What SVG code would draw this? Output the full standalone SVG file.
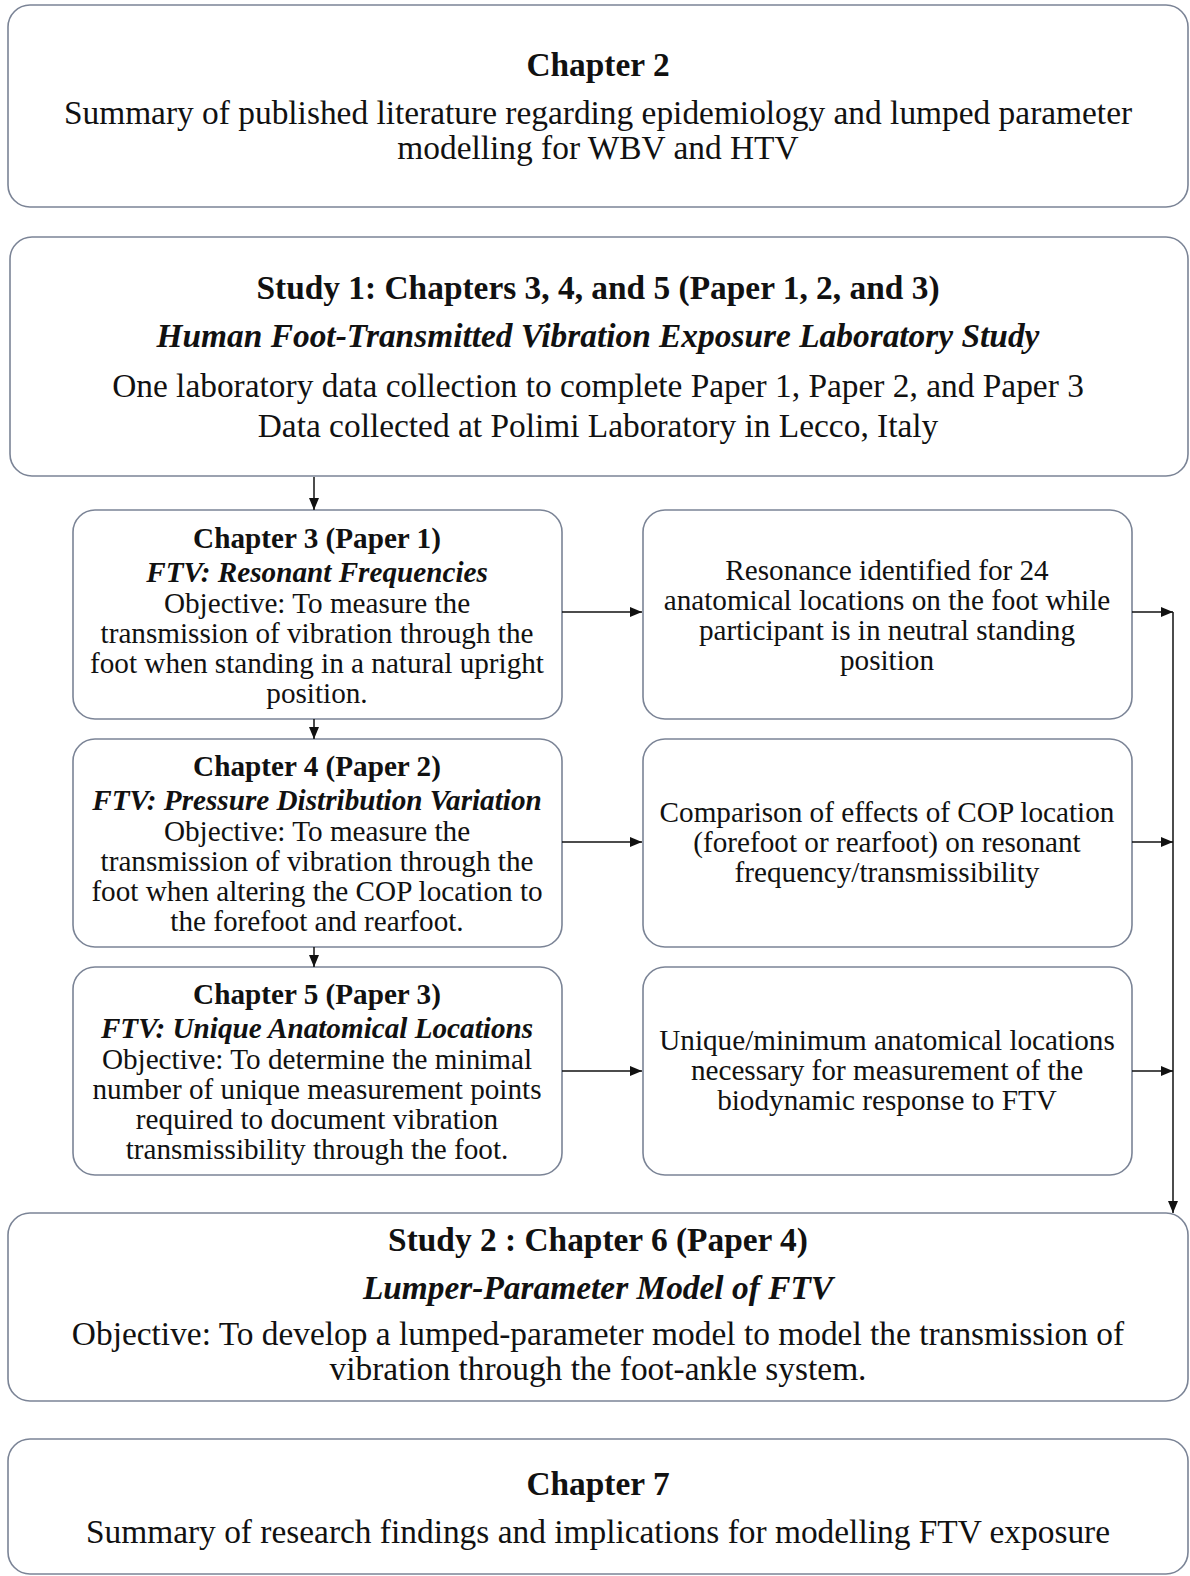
<svg xmlns="http://www.w3.org/2000/svg" width="1190" height="1576" viewBox="0 0 1190 1576">
<style>
.box{fill:#fff;stroke:#7b8496;stroke-width:1.6}
.t{font-family:"Liberation Serif","Times New Roman",serif;fill:#111;text-anchor:middle}
.b{font-weight:bold}
.bi{font-weight:bold;font-style:italic}
.L{font-size:33.4px}
.S{font-size:29.2px}
.con line,.con path{stroke:#111;stroke-width:1.5;fill:none}
</style>
<defs>
<marker id="ah" viewBox="0 0 12 10" refX="12" refY="5" markerWidth="12" markerHeight="10" markerUnits="userSpaceOnUse" orient="auto">
<path d="M0,0 L12,5 L0,10 z" fill="#111"/>
</marker>
</defs>
<rect width="1190" height="1576" fill="#fff"/>

<g id="chapter2">
<rect class="box" x="8" y="5" width="1180" height="202" rx="22"/>
<text class="t L b" x="598" y="76">Chapter 2</text>
<text class="t L" x="598" y="124">Summary of published literature regarding epidemiology and lumped parameter</text>
<text class="t L" x="598" y="159">modelling for WBV and HTV</text>
</g>

<g id="study1">
<rect class="box" x="10" y="237" width="1178" height="239" rx="22"/>
<text class="t L b" x="598" y="299">Study 1: Chapters 3, 4, and 5 (Paper 1, 2, and 3)</text>
<text class="t L bi" x="598" y="347">Human Foot-Transmitted Vibration Exposure Laboratory Study</text>
<text class="t L" x="598" y="397">One laboratory data collection to complete Paper 1, Paper 2, and Paper 3</text>
<text class="t L" x="598" y="437">Data collected at Polimi Laboratory in Lecco, Italy</text>
</g>

<g id="ch3">
<rect class="box" x="73" y="510" width="489" height="209" rx="22"/>
<text class="t S b" x="317" y="548">Chapter 3 (Paper 1)</text>
<text class="t S bi" x="317" y="582">FTV: Resonant Frequencies</text>
<text class="t S" x="317" y="613">Objective: To measure the</text>
<text class="t S" x="317" y="643">transmission of vibration through the</text>
<text class="t S" x="317" y="673">foot when standing in a natural upright</text>
<text class="t S" x="317" y="703">position.</text>
</g>

<g id="ch4">
<rect class="box" x="73" y="739" width="489" height="208" rx="22"/>
<text class="t S b" x="317" y="776">Chapter 4 (Paper 2)</text>
<text class="t S bi" x="317" y="810">FTV: Pressure Distribution Variation</text>
<text class="t S" x="317" y="841">Objective: To measure the</text>
<text class="t S" x="317" y="871">transmission of vibration through the</text>
<text class="t S" x="317" y="901">foot when altering the COP location to</text>
<text class="t S" x="317" y="931">the forefoot and rearfoot.</text>
</g>

<g id="ch5">
<rect class="box" x="73" y="967" width="489" height="208" rx="22"/>
<text class="t S b" x="317" y="1004">Chapter 5 (Paper 3)</text>
<text class="t S bi" x="317" y="1038">FTV: Unique Anatomical Locations</text>
<text class="t S" x="317" y="1069">Objective: To determine the minimal</text>
<text class="t S" x="317" y="1099">number of unique measurement points</text>
<text class="t S" x="317" y="1129">required to document vibration</text>
<text class="t S" x="317" y="1159">transmissibility through the foot.</text>
</g>

<g id="res1">
<rect class="box" x="643" y="510" width="489" height="209" rx="22"/>
<text class="t S" x="887" y="580">Resonance identified for 24</text>
<text class="t S" x="887" y="610">anatomical locations on the foot while</text>
<text class="t S" x="887" y="640">participant is in neutral standing</text>
<text class="t S" x="887" y="670">position</text>
</g>

<g id="res2">
<rect class="box" x="643" y="739" width="489" height="208" rx="22"/>
<text class="t S" x="887" y="822">Comparison of effects of COP location</text>
<text class="t S" x="887" y="852">(forefoot or rearfoot) on resonant</text>
<text class="t S" x="887" y="882">frequency/transmissibility</text>
</g>

<g id="res3">
<rect class="box" x="643" y="967" width="489" height="208" rx="22"/>
<text class="t S" x="887" y="1050">Unique/minimum anatomical locations</text>
<text class="t S" x="887" y="1080">necessary for measurement of the</text>
<text class="t S" x="887" y="1110">biodynamic response to FTV</text>
</g>

<g id="study2">
<rect class="box" x="8" y="1213" width="1180" height="188" rx="22"/>
<text class="t L b" x="598" y="1251">Study 2 : Chapter 6 (Paper 4)</text>
<text class="t L bi" x="598" y="1299">Lumper-Parameter Model of FTV</text>
<text class="t L" x="598" y="1345">Objective: To develop a lumped-parameter model to model the transmission of</text>
<text class="t L" x="598" y="1380">vibration through the foot-ankle system.</text>
</g>

<g id="chapter7">
<rect class="box" x="8" y="1439" width="1180" height="135" rx="22"/>
<text class="t L b" x="598" y="1495">Chapter 7</text>
<text class="t L" x="598" y="1543">Summary of research findings and implications for modelling FTV exposure</text>
</g>

<g class="con" id="connectors">
<line x1="314" y1="477" x2="314" y2="510" marker-end="url(#ah)"/>
<line x1="314" y1="719" x2="314" y2="739" marker-end="url(#ah)"/>
<line x1="314" y1="947" x2="314" y2="967" marker-end="url(#ah)"/>
<line x1="562" y1="612" x2="642" y2="612" marker-end="url(#ah)"/>
<line x1="562" y1="842" x2="642" y2="842" marker-end="url(#ah)"/>
<line x1="562" y1="1071" x2="642" y2="1071" marker-end="url(#ah)"/>
<line x1="1132" y1="612" x2="1173" y2="612" marker-end="url(#ah)"/>
<line x1="1132" y1="842" x2="1173" y2="842" marker-end="url(#ah)"/>
<line x1="1132" y1="1071" x2="1173" y2="1071" marker-end="url(#ah)"/>
<line x1="1173" y1="612" x2="1173" y2="1213" marker-end="url(#ah)"/>
</g>
</svg>
